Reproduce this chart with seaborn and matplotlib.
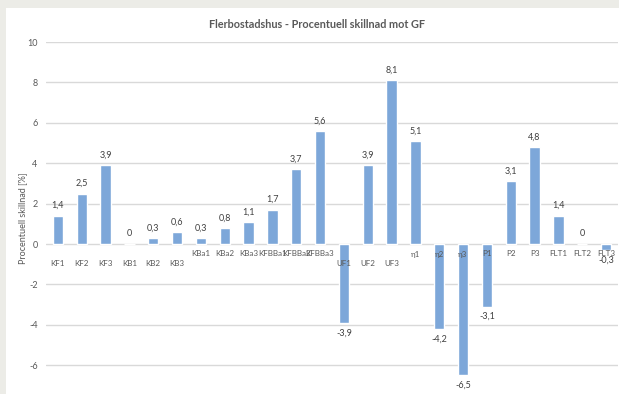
import matplotlib
matplotlib.use("Agg")
import matplotlib.pyplot as plt
from matplotlib.patches import Rectangle
import seaborn as sns
import pandas as pd

categories = ["KF1", "KF2", "KF3", "KB1", "KB2", "KB3",
              "KBa1", "KBa2", "KBa3", "KFBBa1", "KFBBa2", "KFBBa3",
              "UF1", "UF2", "UF3", "η1", "η2", "η3",
              "P1", "P2", "P3", "FLT1", "FLT2", "FLT3"]
values = [1.4, 2.5, 3.9, 0, 0.3, 0.6,
          0.3, 0.8, 1.1, 1.7, 3.7, 5.6,
          -3.9, 3.9, 8.1, 5.1, -4.2, -6.5,
          -3.1, 3.1, 4.8, 1.4, 0, -0.3]
# categories whose axis label sits one step lower
low_labels = ["KF1", "KF2", "KF3", "KB1", "KB2", "KB3", "UF1", "UF2", "UF3"]
y_ticks = [-6, -4, -2, 0, 2, 4, 6, 8, 10]

title = "Flerbostadshus - Procentuell skillnad mot GF"
y_label = "Procentuell skillnad [%]"

sns.set_theme(style="white")
plt.rcParams["font.family"] = ["Lato", "DejaVu Sans"]

text_col = "#595959"
bar_col = "#7DA7D9"
grid_col = "#D9D9D9"

df = pd.DataFrame({"kategori": categories, "värde": values})

fig = plt.figure(figsize=(6.19, 3.94), dpi=100, facecolor="#ECECE7")
fig.patches.append(Rectangle((6 / 619, 0), 1 - 6 / 619, 386 / 394,
                             transform=fig.transFigure,
                             facecolor="white", edgecolor="none", zorder=-10))

ax = fig.add_axes([46 / 619, -11.6 / 394, 572 / 619, 363.6 / 394])
ax.set_facecolor("none")
ax.set_zorder(1)

sns.barplot(data=df, x="kategori", y="värde", color=bar_col, width=0.43,
            saturation=1, ax=ax, zorder=3)

ax.set_ylim(-8, 10)
ax.set_xlim(-0.5, len(categories) - 0.5)
ax.set_yticks(y_ticks)
ax.set_yticklabels([str(t) for t in y_ticks], fontsize=6.5, color=text_col)
ax.tick_params(axis="y", length=0, pad=6)
ax.set_xticks([])
ax.set_xlabel("")
ax.set_ylabel("")
for s in ax.spines.values():
    s.set_visible(False)
ax.grid(axis="y", color=grid_col, linewidth=1, zorder=0)
ax.set_axisbelow(True)

# value labels with decimal comma
labels = ["0" if v == 0 else f"{v:.1f}".replace(".", ",") for v in values]
ax.bar_label(ax.containers[0], labels=labels, padding=4, fontsize=6.5,
             color="#404040")

# category labels under the zero line
for i, c in enumerate(categories):
    off = -19 if c in low_labels else -10
    ax.annotate(c, xy=(i, 0), xytext=(0, off * 0.72), textcoords="offset points",
                ha="center", va="center", fontsize=5.8, color=text_col, zorder=4)

fig.text(317 / 619, 1 - 25 / 394, title, ha="center", va="center",
         fontsize=7.8, fontweight="bold", color=text_col)
fig.text(23 / 619, 1 - 218 / 394, y_label, ha="center", va="center",
         rotation=90, fontsize=6.5, color=text_col)

fig.savefig("out.png", dpi=100, facecolor=fig.get_facecolor())
